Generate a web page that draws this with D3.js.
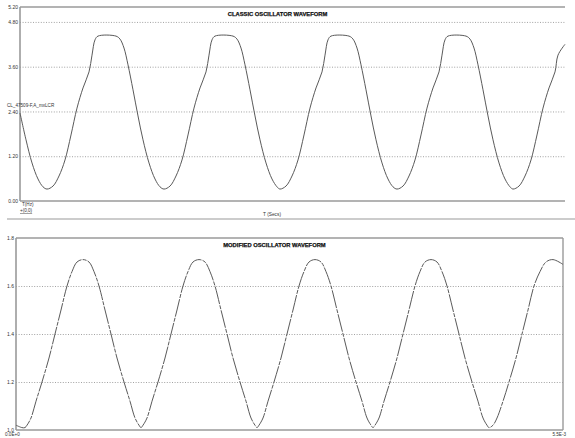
<!DOCTYPE html>
<html>
<head>
<meta charset="utf-8">
<script src="https://cdn.jsdelivr.net/npm/d3@7"></script>
<style>
  body { margin: 0; background: #fff; }
  svg { font-family: "Liberation Sans", Arial, sans-serif; }
  .grid line { stroke: #8a8a8a; stroke-dasharray: 1,1.6; stroke-width: 0.8; }
  .grid path { display: none; }
  .lbl text { font-size: 5px; fill: #333; }
  .lbl path, .lbl line { display: none; }
</style>
</head>
<body>
<script>
// classic waveform: time (ms), voltage
const classicT = [0.00,0.06,0.12,0.18,0.23,
  0.27,0.33,0.39,0.45,0.51,0.57,0.63,0.69,0.72,0.75,0.78,0.96,1.00,1.04,1.08,1.13,1.18,1.23,1.29,1.35,1.40,
  1.44,1.50,1.56,1.62,1.68,1.74,1.80,1.86,1.89,1.92,1.95,2.13,2.17,2.21,2.25,2.30,2.35,2.40,2.46,2.52,2.57,
  2.60,2.66,2.72,2.78,2.84,2.90,2.96,3.02,3.05,3.08,3.11,3.29,3.33,3.37,3.41,3.46,3.51,3.56,3.62,3.68,3.73,
  3.77,3.83,3.89,3.95,4.01,4.07,4.13,4.19,4.22,4.25,4.28,4.46,4.50,4.54,4.58,4.63,4.68,4.73,4.79,4.85,4.90,
  4.93,4.99,5.05,5.11,5.17,5.23,5.29,5.35,5.38,5.45];
const classicV = [2.36,1.64,1.02,0.59,0.38,
  0.32,0.40,0.67,1.10,1.77,2.49,3.03,3.46,3.91,4.32,4.42,4.42,4.34,4.10,3.65,2.98,2.28,1.64,1.02,0.59,0.38,
  0.32,0.40,0.67,1.10,1.77,2.49,3.03,3.46,3.91,4.32,4.42,4.42,4.34,4.10,3.65,2.98,2.28,1.64,1.02,0.59,0.38,
  0.32,0.40,0.67,1.10,1.77,2.49,3.03,3.46,3.91,4.32,4.42,4.42,4.34,4.10,3.65,2.98,2.28,1.64,1.02,0.59,0.38,
  0.32,0.40,0.67,1.10,1.77,2.49,3.03,3.46,3.91,4.32,4.42,4.42,4.34,4.10,3.65,2.98,2.28,1.64,1.02,0.59,0.38,
  0.32,0.40,0.67,1.10,1.77,2.49,3.03,3.46,3.91,4.20];
const classicTicks = [0, 1.2, 2.4, 3.6, 4.8, 5.2];
const classicTickLabels = ["0.00","1.20","2.40","3.60","4.80","5.20"];

// modified waveform
const modT = [0.00,0.06,
  0.09,0.11,0.15,0.20,0.26,0.33,0.39,0.45,0.51,0.56,0.61,0.67,0.73,0.78,0.83,0.89,0.95,1.01,1.08,1.14,1.19,1.23,1.25,
  1.27,1.31,1.36,1.42,1.49,1.55,1.61,1.67,1.72,1.77,1.83,1.89,1.94,1.99,2.05,2.11,2.17,2.24,2.30,2.35,2.39,2.41,
  2.43,2.47,2.52,2.58,2.65,2.71,2.77,2.83,2.88,2.93,2.99,3.05,3.10,3.15,3.21,3.27,3.33,3.40,3.46,3.51,3.55,3.57,
  3.59,3.63,3.68,3.74,3.81,3.87,3.93,3.99,4.04,4.09,4.15,4.21,4.26,4.31,4.37,4.43,4.49,4.56,4.62,4.67,4.71,4.73,
  4.77,4.81,4.87,4.93,5.00,5.06,5.12,5.18,5.24,5.30,5.37,5.47];
const modV = [1.02,1.01,
  1.01,1.02,1.05,1.12,1.20,1.30,1.40,1.50,1.60,1.66,1.70,1.71,1.70,1.66,1.60,1.50,1.40,1.30,1.20,1.12,1.05,1.02,1.01,
  1.02,1.05,1.12,1.20,1.30,1.40,1.50,1.60,1.66,1.70,1.71,1.70,1.66,1.60,1.50,1.40,1.30,1.20,1.12,1.05,1.02,1.01,
  1.02,1.05,1.12,1.20,1.30,1.40,1.50,1.60,1.66,1.70,1.71,1.70,1.66,1.60,1.50,1.40,1.30,1.20,1.12,1.05,1.02,1.01,
  1.02,1.05,1.12,1.20,1.30,1.40,1.50,1.60,1.66,1.70,1.71,1.70,1.66,1.60,1.50,1.40,1.30,1.20,1.12,1.05,1.02,1.01,
  1.02,1.05,1.12,1.20,1.30,1.40,1.50,1.60,1.66,1.70,1.71,1.69];
const modTicks = [1.0, 1.2, 1.4, 1.6, 1.8];
const modTickLabels = ["1.0","1.2","1.4","1.6","1.8"];

const svg = d3.select("body").append("svg").attr("width", 575).attr("height", 438);

function panel(o) {
  const x = d3.scaleLinear().domain(o.xDomain).range([o.left, o.right]);
  const y = d3.scaleLinear().domain(o.yDomain).range([o.bottom, o.top]);
  const g = svg.append("g");

  // dotted gridlines
  g.append("g").attr("class", "grid")
    .attr("transform", `translate(${o.left},0)`)
    .call(d3.axisLeft(y).tickValues(o.grid).tickSize(-(o.right - o.left)).tickFormat(""));

  // tick labels
  g.append("g").attr("class", "lbl")
    .attr("transform", `translate(${o.left - 1},0)`)
    .call(d3.axisLeft(y).tickValues(o.ticks).tickSize(0).tickPadding(1)
      .tickFormat((d, i) => o.tickLabels[i]));

  // frame
  g.append("line").attr("x1", o.left).attr("x2", o.right).attr("y1", o.top).attr("y2", o.top)
    .attr("stroke", "#9a9a9a").attr("stroke-width", 1.6);
  g.append("line").attr("x1", o.left).attr("x2", o.right).attr("y1", o.bottom).attr("y2", o.bottom)
    .attr("stroke", "#9a9a9a").attr("stroke-width", 1.6);
  g.append("line").attr("x1", o.left).attr("x2", o.left).attr("y1", o.top).attr("y2", o.bottom)
    .attr("stroke", "#9a9a9a").attr("stroke-width", 1.6);
  if (o.rightBorder) {
    g.append("line").attr("x1", o.right).attr("x2", o.right).attr("y1", o.top).attr("y2", o.bottom)
      .attr("stroke", "#9a9a9a").attr("stroke-width", 1.4);
  }

  const data = o.t.map((t, i) => [t, o.v[i]]);
  const line = d3.line().x(d => x(d[0])).y(d => y(d[1])).curve(d3.curveCatmullRom.alpha(0.5));
  g.append("path").datum(data).attr("d", line)
    .attr("fill", "none").attr("stroke", "#5a5a5a").attr("stroke-width", 1)
    .attr("stroke-dasharray", o.dash || null);

  g.append("text").attr("x", (o.left + o.right) / 2 - 15).attr("y", o.top + 9)
    .attr("text-anchor", "middle").attr("font-size", 5.8).attr("font-weight", "bold")
    .attr("fill", "#111").attr("stroke", "#111").attr("stroke-width", 0.25).text(o.title);
  return g;
}

panel({
  xDomain: [0, 5.45], yDomain: [0, 5.2],
  left: 20, right: 565, top: 7, bottom: 201,
  grid: [1.2, 2.4, 3.6, 4.8], ticks: classicTicks, tickLabels: classicTickLabels,
  t: classicT, v: classicV, title: "CLASSIC OSCILLATOR WAVEFORM"
});

panel({
  xDomain: [0, 5.47], yDomain: [1.0, 1.8],
  left: 16, right: 563, top: 238, bottom: 430,
  grid: [1.2, 1.4, 1.6], ticks: modTicks, tickLabels: modTickLabels,
  t: modT, v: modV, title: "MODIFIED OSCILLATOR WAVEFORM",
  rightBorder: true, dash: "18,1.2,4,1.2"
});

// extra texts of the upper panel
svg.append("text").attr("x", 7).attr("y", 107).attr("font-size", 4.6).attr("fill", "#333")
  .text("CL_47509-F,A_mxLCR");
svg.append("text").attr("x", 22).attr("y", 206).attr("font-size", 4.6).attr("fill", "#333").text("T(Hz)");
svg.append("text").attr("x", 20).attr("y", 212).attr("font-size", 4.6).attr("fill", "#333")
  .attr("text-decoration", "underline").text("+(0,0)");
svg.append("text").attr("x", 272).attr("y", 216).attr("text-anchor", "middle")
  .attr("font-size", 4.8).attr("fill", "#333").text("T (Secs)");
svg.append("line").attr("x1", 7).attr("x2", 575).attr("y1", 219).attr("y2", 219)
  .attr("stroke", "#9a9a9a").attr("stroke-width", 1.2);

// x-range labels of the lower panel
svg.append("text").attr("x", 5).attr("y", 436).attr("font-size", 4.6).attr("fill", "#333").text("0.0E+0");
svg.append("text").attr("x", 566).attr("y", 436).attr("text-anchor", "end")
  .attr("font-size", 4.6).attr("fill", "#333").text("5.5E-3");
</script>
</body>
</html>
